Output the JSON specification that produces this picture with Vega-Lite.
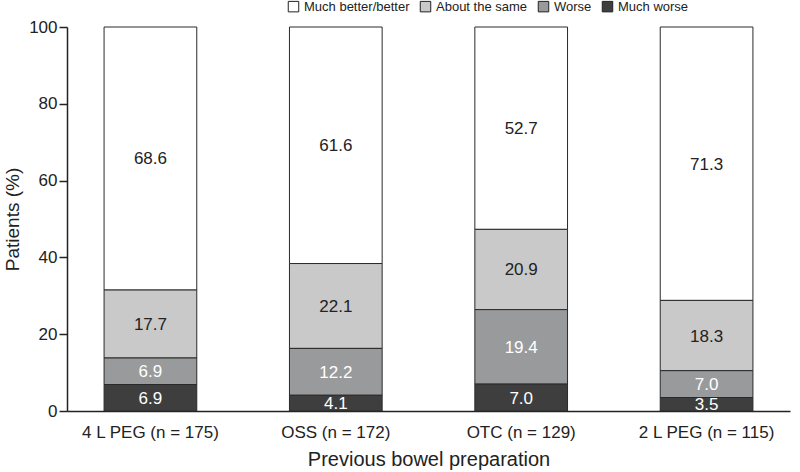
{
  "$schema": "https://vega.github.io/schema/vega-lite/v6.json",
  "width": 723,
  "height": 384,
  "autosize": {"type": "none"},
  "padding": {"left": 67, "top": 27, "right": 10, "bottom": 61},
  "background": "white",
  "config": {
    "font": "Liberation Sans",
    "view": {"stroke": null},
    "axis": {"labelFont": "Liberation Sans", "titleFont": "Liberation Sans", "labelColor": "#222", "titleColor": "#222", "domainColor": "#222", "tickColor": "#222", "grid": false, "titleFontWeight": "normal"}
  },
  "data": {
    "values": [
      {"prep": "4 L PEG (n = 175)", "resp": "Much better/better", "ord": 4, "val": 68.6},
      {"prep": "4 L PEG (n = 175)", "resp": "About the same", "ord": 3, "val": 17.7},
      {"prep": "4 L PEG (n = 175)", "resp": "Worse", "ord": 2, "val": 6.9},
      {"prep": "4 L PEG (n = 175)", "resp": "Much worse", "ord": 1, "val": 6.9},
      {"prep": "OSS (n = 172)", "resp": "Much better/better", "ord": 4, "val": 61.6},
      {"prep": "OSS (n = 172)", "resp": "About the same", "ord": 3, "val": 22.1},
      {"prep": "OSS (n = 172)", "resp": "Worse", "ord": 2, "val": 12.2},
      {"prep": "OSS (n = 172)", "resp": "Much worse", "ord": 1, "val": 4.1},
      {"prep": "OTC (n = 129)", "resp": "Much better/better", "ord": 4, "val": 52.7},
      {"prep": "OTC (n = 129)", "resp": "About the same", "ord": 3, "val": 20.9},
      {"prep": "OTC (n = 129)", "resp": "Worse", "ord": 2, "val": 19.4},
      {"prep": "OTC (n = 129)", "resp": "Much worse", "ord": 1, "val": 7.0},
      {"prep": "2 L PEG (n = 115)", "resp": "Much better/better", "ord": 4, "val": 71.3},
      {"prep": "2 L PEG (n = 115)", "resp": "About the same", "ord": 3, "val": 18.3},
      {"prep": "2 L PEG (n = 115)", "resp": "Worse", "ord": 2, "val": 7.0},
      {"prep": "2 L PEG (n = 115)", "resp": "Much worse", "ord": 1, "val": 3.5}
    ]
  },
  "transform": [
    {"stack": "val", "groupby": ["prep"], "sort": [{"field": "ord", "order": "ascending"}], "as": ["v0", "v1"]},
    {"calculate": "min((datum.v0 + datum.v1) / 2, 100)", "as": "vmid"},
    {"calculate": "min(datum.v1, 100)", "as": "v1c"}
  ],
  "encoding": {
    "x": {
      "field": "prep", "type": "nominal",
      "sort": ["4 L PEG (n = 175)", "OSS (n = 172)", "OTC (n = 129)", "2 L PEG (n = 115)"],
      "scale": {"paddingInner": 0.5, "paddingOuter": 0.2},
      "axis": {"title": "Previous bowel preparation", "labelAngle": 0, "ticks": false, "labelFontSize": 17, "titleFontSize": 20, "labelPadding": 13, "titlePadding": 9, "domainWidth": 1.5}
    }
  },
  "layer": [
    {
      "mark": {"type": "bar", "stroke": "#2a2a2a", "strokeWidth": 1},
      "encoding": {
        "y": {"field": "v0", "type": "quantitative", "scale": {"domain": [0, 100]},
          "axis": {"title": "Patients (%)", "values": [0, 20, 40, 60, 80, 100], "tickSize": 8, "tickWidth": 1.5, "domainWidth": 1.5, "labelFontSize": 17, "titleFontSize": 19, "labelPadding": 2, "titlePadding": 6}},
        "y2": {"field": "v1c"},
        "fill": {
          "field": "resp", "type": "nominal",
          "scale": {"domain": ["Much better/better", "About the same", "Worse", "Much worse"], "range": ["#ffffff", "#c9c9c9", "#999a9b", "#3e3e3e"]},
          "legend": {"title": null, "orient": "none", "legendX": 220, "legendY": -27, "direction": "horizontal", "symbolType": "square", "symbolSize": 110, "symbolStrokeColor": "#222", "symbolStrokeWidth": 1, "labelFontSize": 13, "labelColor": "#222", "columnPadding": 8, "labelOffset": 4}
        }
      }
    },
    {
      "mark": {"type": "text", "fontSize": 17, "baseline": "middle", "dy": 1},
      "encoding": {
        "y": {"field": "vmid", "type": "quantitative"},
        "text": {"field": "val", "type": "quantitative", "format": ".1f"},
        "color": {
          "condition": {"test": "datum.ord <= 2", "value": "white"},
          "value": "#222"
        }
      }
    }
  ]
}
